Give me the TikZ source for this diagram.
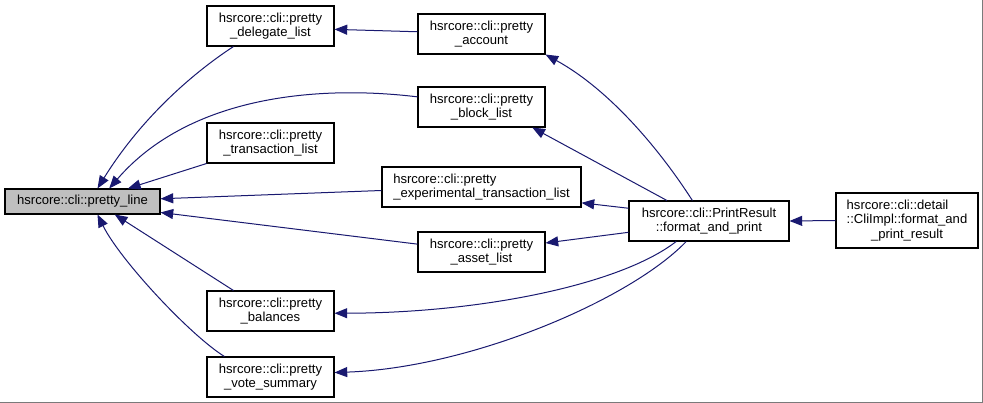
\documentclass[tikz,border=0pt]{standalone}
\usepackage{fontspec}
\setmainfont{Liberation Sans}
\usepackage{calc}
\usetikzlibrary{arrows.meta}
\definecolor{edgeblue}{HTML}{191970}
\definecolor{nodegray}{HTML}{BFBFBF}
\definecolor{framegray}{HTML}{7A7A7A}
\begin{document}
\begin{tikzpicture}[x=0.75pt,y=-0.75pt,
  fn/.style={draw=black, line width=0.8pt, fill=white, inner sep=0pt, align=center,
    minimum width=95.25pt, minimum height=30pt, font=\fontsize{9.8}{10.9}\selectfont},
  call/.style={draw=edgeblue, line width=0.75pt,
    -{Triangle[length=9.5pt,width=7.5pt,fill=edgeblue]}}]
\fill[white] (0,0) rectangle (983,403);
\useasboundingbox (0,0) rectangle (983,403);
\draw[framegray, line width=1pt] (982.5,0) -- (982.5,402.5) -- (0,402.5);

\node[fn, fill=nodegray, minimum width=116.25pt, minimum height=18.75pt] (pl) at (82.5,201.5) {hsrcore::cli::pretty\_line};
\node[fn] (dl) at (270.5,26) {hsrcore::cli::pretty\\\_delegate\_list};
\node[fn] (tl) at (270.5,143) {hsrcore::cli::pretty\\\_transaction\_list};
\node[fn] (ba) at (270.5,311) {hsrcore::cli::pretty\\\_balances};
\node[fn] (vs) at (270.5,377) {hsrcore::cli::pretty\\\_vote\_summary};
\node[fn] (ac) at (481.5,34) {hsrcore::cli::pretty\\\_account};
\node[fn] (bl) at (481.5,107) {hsrcore::cli::pretty\\\_block\_list};
\node[fn, minimum width=149.25pt] (ex) at (481.5,187) {\makebox[\widthof{\_experimental\_transaction\_list}][l]{hsrcore::cli::pretty}\\\_experimental\_transaction\_list};
\node[fn] (as) at (481.5,252) {hsrcore::cli::pretty\\\_asset\_list};
\node[fn, minimum width=120pt] (fp) at (709,221) {hsrcore::cli::PrintResult\\::format\_and\_print};
\node[fn, minimum width=106.5pt, minimum height=41.25pt] (fr) at (907,220.5) {\makebox[\widthof{::CliImpl::format\_and}][l]{hsrcore::cli::detail}\\::CliImpl::format\_and\\\_print\_result};

% callers of pretty_line
\draw[call] (dl.209) .. controls (190,75) and (140,120) .. (pl.41);
\draw[call] (bl.171) .. controls (320,85) and (190,95) .. (pl.26);
\draw[call] (tl.south west) -- (pl.16);
\draw[call] (ex.182) -- (pl.2);
\draw[call] (as.173) -- (pl.-8);
\draw[call] (ba.151) -- (pl.-22);
\draw[call] (vs.156) .. controls (190,335) and (120,260) .. (pl.-41);
% other calls
\draw[call] (ac.178) -- (dl.-3);
\draw[call] (fp.129) .. controls (660,150) and (610,90) .. (ac.south east);
\draw[call] (fp.154) -- (bl.-22);
\draw[call] (fp.171) -- (ex.-9);
\draw[call] (fp.188) -- (as.8);
\draw[call] (fp.212) .. controls (620,285) and (480,313) .. (ba.-2);
\draw[call] (fp.222) .. controls (630,300) and (470,368) .. (vs.4);
\draw[call] (fr.west) -- (fp.east);
\end{tikzpicture}
\end{document}
